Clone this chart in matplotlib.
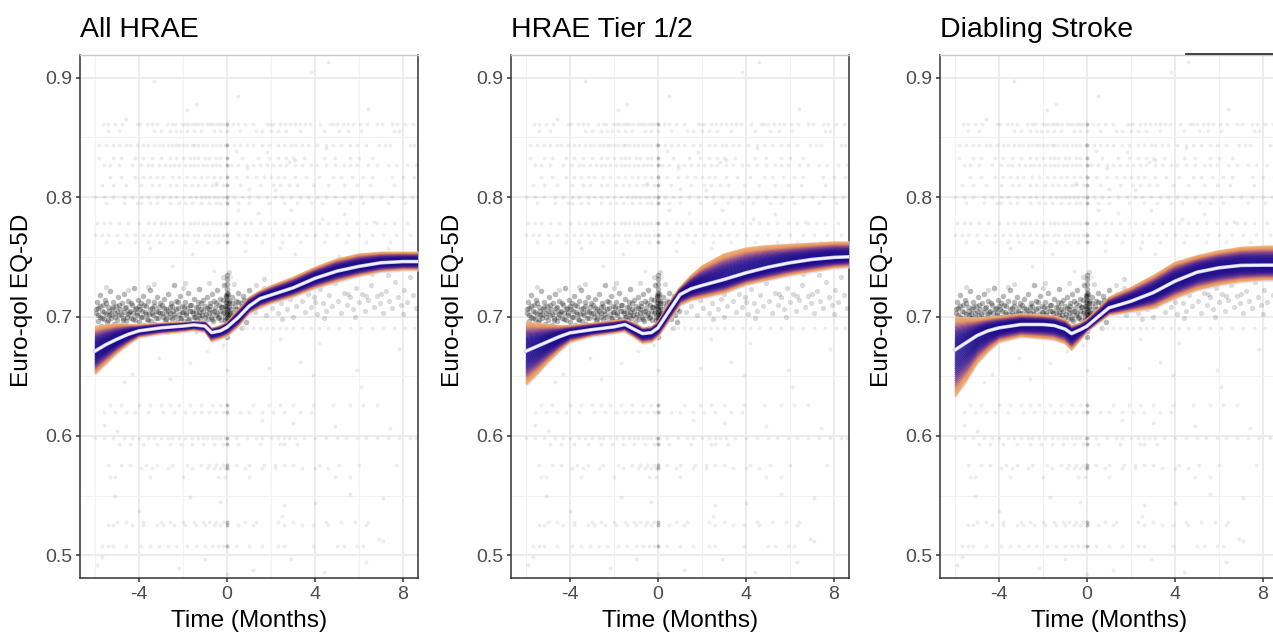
import numpy as np
import matplotlib
matplotlib.use("Agg")
import matplotlib.pyplot as plt
from matplotlib.colors import LinearSegmentedColormap
from matplotlib.lines import Line2D
from matplotlib.ticker import MultipleLocator

plt.rcParams['font.family'] = ['Liberation Sans', 'DejaVu Sans']

# ---- panel titles and axes text
titles = ["All HRAE", "HRAE Tier 1/2", "Diabling Stroke"]
x_label = "Time (Months)"
y_label = "Euro-qol EQ-5D"
x_ticks = [-4, 0, 4, 8]
y_ticks = [0.5, 0.6, 0.7, 0.8, 0.9]

# ---- fitted curves (knots in months)
knots = [-6, -5.5, -5, -4.5, -4, -3, -2, -1.5, -1, -0.7, -0.3, 0, 0.5, 1, 1.5, 2, 3, 4, 5, 6, 7, 8, 8.7]

mean_all = [0.671, 0.6765, 0.681, 0.685, 0.688, 0.6905, 0.692, 0.693, 0.692, 0.6865, 0.688, 0.691,
            0.699, 0.7086, 0.715, 0.718, 0.724, 0.732, 0.738, 0.742, 0.745, 0.746, 0.746]
low_all = [0.652, 0.661, 0.6696, 0.677, 0.683, 0.686, 0.6877, 0.689, 0.6875, 0.6795, 0.682, 0.684,
           0.692, 0.703, 0.708, 0.7115, 0.717, 0.724, 0.7296, 0.7344, 0.738, 0.7394, 0.7394]
high_all = [0.6913, 0.6925, 0.6933, 0.693, 0.6925, 0.694, 0.6947, 0.6955, 0.6955, 0.6897, 0.692,
            0.6947, 0.705, 0.7157, 0.721, 0.7254, 0.7324, 0.7408, 0.7478, 0.752, 0.7534, 0.7534, 0.7534]

mean_tier = [0.671, 0.675, 0.679, 0.683, 0.6863, 0.689, 0.6913, 0.6933, 0.6885, 0.6857, 0.6865,
             0.6905, 0.7045, 0.7184, 0.7232, 0.726, 0.731, 0.7366, 0.7413, 0.745, 0.7478, 0.7495, 0.750]
low_tier = [0.643, 0.652, 0.662, 0.671, 0.679, 0.684, 0.6866, 0.688, 0.682, 0.678, 0.679, 0.6835,
            0.697, 0.710, 0.714, 0.716, 0.720, 0.727, 0.731, 0.735, 0.738, 0.741, 0.742]
high_tier = [0.695, 0.694, 0.693, 0.692, 0.692, 0.694, 0.696, 0.697, 0.6935, 0.690, 0.691, 0.695,
             0.711, 0.724, 0.734, 0.742, 0.752, 0.757, 0.759, 0.760, 0.761, 0.762, 0.762]

mean_stroke = [0.672, 0.678, 0.684, 0.688, 0.6905, 0.6933, 0.6933, 0.6925, 0.6895, 0.6857, 0.689,
               0.6919, 0.6997, 0.7073, 0.710, 0.7128, 0.7199, 0.7296, 0.7371, 0.7408, 0.7428, 0.743, 0.743]
low_stroke = [0.633, 0.646, 0.661, 0.671, 0.679, 0.6835, 0.682, 0.681, 0.678, 0.6723, 0.681, 0.6877,
              0.695, 0.7017, 0.703, 0.7045, 0.7073, 0.7157, 0.7226, 0.7268, 0.7296, 0.731, 0.731]
high_stroke = [0.699, 0.6985, 0.698, 0.699, 0.6997, 0.7017, 0.7008, 0.700, 0.697, 0.6919, 0.694,
               0.6975, 0.706, 0.7157, 0.720, 0.724, 0.7338, 0.745, 0.7505, 0.7547, 0.7575, 0.7584, 0.7586]

# ---- observed EQ-5D values: discrete score levels and the months they were seen at
row_levels = [0.861, 0.855, 0.844, 0.833, 0.827, 0.817, 0.810, 0.800, 0.795, 0.778, 0.768, 0.762,
              0.690, 0.626, 0.620, 0.598, 0.593, 0.576, 0.573, 0.566, 0.528, 0.525, 0.508]
row_months = [
    [-5.62, -5.39, -5.09, -4.79, -4.11, -3.95, -3.65, -3.42, -3.2, -2.74, -2.52, -2.37, -2.06, -1.91,
     -1.76, -1.61, -1.45, -1.3, -1.15, -0.92, -0.77, -0.62, -0.47, -0.32, -0.17, -0.02, 0.29, 0.52,
     0.82, 1.2, 1.8, 1.95, 2.11, 2.41, 2.64, 2.86, 3.09, 3.32, 3.55, 3.77, 4.23, 4.68, 4.83, 4.98,
     5.29, 5.52, 5.74, 6.05, 6.35, 6.8, 7.03, 7.48, 7.71, 8.09, 8.47],
    [-5.4, -4.9, -3.3, -3.0, -2.6, -2.3, -2.1, -1.8, -1.5, -1.2, -0.6, -0.3, 0.0, 0.6, 1.3, 1.6, 2.0,
     2.3, 2.7, 3.3, 4.4, 5.1, 5.5, 6.1, 7.6, 7.8],
    [-5.8, -5.5, -5.2, -4.9, -4.6, -4.4, -4.1, -3.8, -3.6, -3.3, -3.1, -2.9, -2.7, -2.5, -2.3, -2.2,
     -2.0, -1.8, -1.6, -1.5, -1.3, -1.1, -0.9, -0.7, -0.5, -0.3, -0.1, 0.0, 0.3, 0.6, 0.9, 1.2, 1.6,
     1.9, 2.3, 2.6, 2.9, 3.1, 3.4, 3.7, 4.1, 4.5, 4.8, 5.2, 5.6, 5.9, 6.3, 6.9, 7.2, 7.4, 8.3, 8.5],
    [-5.8, -5.2, -4.8, -4.2, -3.8, -3.4, -3.0, -2.6, -2.3, -2.0, -1.7, -1.5, -1.3, -1.0, -0.8, -0.5,
     -0.3, 0.0, 0.7, 1.4, 1.9, 2.3, 2.7, 3.0, 3.5, 4.4, 4.9, 5.6, 6.0, 6.6],
    [-5.6, -5.3, -4.9, -4.3, -3.9, -3.6, -3.4, -3.1, -2.8, -2.6, -2.4, -2.2, -1.9, -1.7, -1.5, -1.3,
     -1.1, -0.9, -0.7, -0.5, -0.3, 0.0, 0.2, 0.5, 0.9, 1.2, 1.5, 1.8, 2.1, 2.4, 2.7, 3.1, 3.4, 3.8,
     4.1, 4.5, 4.9, 5.3, 5.6, 5.9, 6.4, 6.8, 7.3, 7.7, 8.2, 8.6],
    [-5.3, -4.8, -4.2, -3.8, -3.5, -3.2, -2.9, -2.5, -2.2, -1.8, -1.5, -1.2, -0.9, -0.6, -0.3, 0.0,
     0.4, 0.9, 1.3, 1.7, 2.0, 2.3, 2.6, 3.1, 3.6, 4.2, 4.8, 5.2, 5.7, 6.2, 6.6, 7.5, 8.0, 8.5],
    [-5.7, -5.2, -4.6, -3.9, -3.4, -3.1, -2.6, -2.3, -1.9, -1.6, -1.3, -1.0, -0.7, -0.5, -0.2, 0.0,
     0.6, 1.5, 2.1, 2.4, 2.8, 3.2, 3.9, 4.6, 5.3, 5.9, 6.5, 7.6],
    [-6.0, -5.6, -5.2, -4.7, -4.3, -3.9, -3.6, -3.2, -2.9, -2.6, -2.3, -2.0, -1.7, -1.4, -1.2, -1.0,
     -0.8, -0.6, -0.4, -0.2, 0.0, 0.3, 0.7, 1.0, 1.4, 1.8, 2.2, 2.5, 2.9, 3.3, 3.7, 4.1, 4.5, 4.9,
     5.3, 5.7, 6.1, 6.6, 7.0, 7.5, 8.0, 8.4],
    [-5.5, -4.7, -4.1, -3.9, -3.5, -3.2, -2.6, -2.2, -1.9, -1.6, -1.2, -0.8, -0.5, -0.3, 0.0, 0.5,
     1.0, 1.9, 2.6, 3.2, 3.8, 4.3, 5.1, 5.6, 6.2, 7.3, 8.1],
    [-5.9, -5.6, -5.3, -4.9, -4.5, -4.0, -3.6, -3.3, -3.0, -2.8, -2.6, -2.3, -2.0, -1.7, -1.5, -1.3,
     -1.1, -0.9, -0.7, -0.5, -0.3, -0.1, 0.0, 0.4, 0.8, 1.1, 1.5, 1.9, 2.2, 2.6, 3.0, 3.4, 3.8, 4.2,
     4.6, 5.0, 5.4, 5.9, 6.3, 6.8, 7.2, 7.6, 8.2],
    [-6.0, -5.7, -5.4, -5.0, -4.6, -4.2, -3.8, -3.5, -3.2, -2.9, -2.6, -2.3, -2.0, -1.8, -1.5, -1.3,
     -1.0, -0.8, -0.6, -0.4, -0.2, 0.0, 0.5, 0.9, 1.3, 1.7, 2.1, 2.5, 2.8, 3.2, 3.6, 4.0, 4.5, 5.0,
     5.5, 6.0, 6.6, 7.1, 7.7, 8.3],
    [-5.5, -4.9, -4.2, -3.6, -3.1, -2.5, -1.9, -1.4, -0.9, -0.4, 0.0, 0.8, 1.6, 2.5, 3.3, 4.4, 5.4,
     6.3, 7.4],
    [0.6, 0.9, 1.2, 1.5, 1.8, 2.1, 2.4, 2.7, 3.0, 3.4, 3.8, 4.2, 4.6, 5.1, 5.6, 6.1, 6.6, 7.1, 7.6,
     8.1, 8.5],
    [-5.3, -4.8, -4.0, -3.5, -3.0, -2.6, -2.2, -1.7, -1.2, -0.7, -0.3, 0.0, 1.2, 1.9, 2.4, 3.0, 3.9,
     4.8, 5.6, 6.2, 6.8],
    [-5.6, -5.1, -4.6, -4.2, -3.6, -2.9, -2.4, -1.9, -1.5, -1.2, -0.8, -0.5, -0.2, 0.0, 0.6, 1.0,
     1.6, 2.1, 2.6, 3.3, 3.8],
    [-6.0, -5.6, -5.2, -4.7, -4.3, -4.0, -3.6, -3.3, -3.0, -2.7, -2.5, -2.2, -1.9, -1.6, -1.3, -1.1,
     -0.9, -0.7, -0.5, -0.3, -0.1, 0.0, 0.4, 0.9, 1.3, 1.6, 2.0, 2.3, 2.6, 2.8, 3.1, 3.5, 4.0, 4.5,
     5.0, 5.4, 5.9, 6.3, 6.8, 7.3, 7.8, 8.3, 8.6],
    [-4.9, -4.4, -3.8, -3.2, -2.6, -2.1, -1.6, -1.1, -0.6, -0.2, 0.0, 0.5, 1.5, 2.4, 2.6, 3.2],
    [-5.4, -4.8, -4.4, -3.7, -3.2, -2.5, -1.8, -1.2, -0.8, -0.5, -0.2, 0.0, 0.4, 1.0, 1.7, 2.2, 2.6,
     3.0, 4.2, 5.1, 6.0, 7.7],
    [-3.9, -3.4, -2.7, -1.6, -0.9, -0.6, -0.3, -0.1, 0.0, 0.8, 1.6, 2.2, 3.4, 4.0, 4.6],
    [-5.3, -5.1, -3.5, -2.0, -0.4, -0.1, 1.0, 4.9, 5.6],
    [-5.0, -4.6, -3.8, -3.0, -2.6, -2.0, -1.5, -1.1, -0.8, -0.5, -0.2, 0.0, 0.8, 1.3, 2.3, 3.0, 4.5,
     5.2, 5.8, 6.4],
    [-5.4, -5.2, -4.3, -3.8, -3.2, -2.9, -2.4, -1.9, -1.4, -1.0, -0.6, -0.3, 0.0, 0.5, 1.2, 2.6, 3.4,
     3.9, 4.6, 6.3],
    [-5.7, -5.4, -5.2, -4.6, -3.9, -3.5, -3.1, -2.7, -2.3, -1.8, -1.4, -1.0, -0.7, -0.4, -0.2, 0.0,
     0.4, 1.0, 1.6, 2.3, 2.6, 3.9, 5.0, 5.3, 5.9, 6.2],
]
# many patients scored at the event month itself
baseline_levels = [0.861, 0.844, 0.833, 0.827, 0.817, 0.810, 0.800, 0.795, 0.778, 0.768, 0.762,
                   0.626, 0.620, 0.598, 0.593, 0.576, 0.573, 0.528, 0.525, 0.508]

# scattered off-level observations
stray_pts = [(-3.3, 0.897), (-4.6, 0.865), (-1.8, 0.873), (-1.4, 0.878), (0.5, 0.885), (4.6, 0.913),
             (3.8, 0.905), (6.4, 0.874), (0.4, 0.839), (1.8, 0.838), (2.8, 0.829), (0.9, 0.824),
             (3.1, 0.831), (4.5, 0.841), (-0.5, 0.812), (1.0, 0.807), (2.2, 0.806), (0.5, 0.789),
             (1.4, 0.787), (2.9, 0.789), (4.3, 0.782), (5.3, 0.786), (6.7, 0.779), (-3.5, 0.757),
             (-1.6, 0.752), (0.8, 0.755), (2.4, 0.757), (3.1, 0.752), (5.1, 0.751), (7.3, 0.757),
             (-2.5, 0.742), (-0.6, 0.738), (0.2, 0.733), (8.2, 0.741), (-4.3, 0.652), (-3.1, 0.665),
             (-1.7, 0.661), (-0.9, 0.671), (-0.2, 0.676), (-4.7, 0.645), (-2.6, 0.648), (0.0, 0.655),
             (1.9, 0.657), (3.3, 0.662), (3.9, 0.651), (5.9, 0.655), (6.1, 0.641), (7.8, 0.673),
             (2.4, 0.681), (4.2, 0.678), (-5.6, 0.609), (-5.0, 0.604), (4.9, 0.608), (7.4, 0.607),
             (1.6, 0.613), (3.0, 0.611), (-5.1, 0.550), (-0.3, 0.545), (2.6, 0.542), (4.0, 0.544),
             (5.6, 0.551), (7.1, 0.548), (-1.7, 0.549), (-4.0, 0.537), (2.5, 0.533), (6.9, 0.514),
             (7.1, 0.512), (-5.9, 0.492), (-5.7, 0.499), (-1.0, 0.497), (-2.2, 0.489), (0.0, 0.484),
             (2.9, 0.497), (4.4, 0.486), (6.3, 0.494), (1.2, 0.488)]

# the dense cloud of observations around 0.70
cloud_pts = [
    (-5.97, 0.703), (-5.93, 0.712), (-5.88, 0.696), (-5.84, 0.707), (-5.79, 0.700), (-5.75, 0.718),
    (-5.71, 0.692), (-5.66, 0.705), (-5.62, 0.710), (-5.58, 0.698), (-5.53, 0.714), (-5.49, 0.702),
    (-5.45, 0.695), (-5.40, 0.708), (-5.36, 0.701), (-5.31, 0.721), (-5.27, 0.699), (-5.23, 0.706),
    (-5.18, 0.712), (-5.14, 0.694), (-5.10, 0.703), (-5.05, 0.709), (-5.01, 0.697),
    (-4.97, 0.716), (-4.92, 0.701), (-4.88, 0.706), (-4.83, 0.693), (-4.79, 0.711), (-4.74, 0.699),
    (-4.70, 0.704), (-4.66, 0.719), (-4.61, 0.696), (-4.57, 0.708), (-4.52, 0.702), (-4.48, 0.713),
    (-4.44, 0.690), (-4.39, 0.705), (-4.35, 0.699), (-4.30, 0.710), (-4.26, 0.703), (-4.22, 0.724),
    (-4.17, 0.697), (-4.13, 0.707), (-4.08, 0.701), (-4.04, 0.714),
    (-3.98, 0.695), (-3.94, 0.706), (-3.89, 0.711), (-3.85, 0.700), (-3.80, 0.717), (-3.76, 0.693),
    (-3.71, 0.704), (-3.67, 0.709), (-3.63, 0.698), (-3.58, 0.713), (-3.54, 0.702), (-3.49, 0.722),
    (-3.45, 0.696), (-3.41, 0.707), (-3.36, 0.701), (-3.32, 0.712), (-3.27, 0.694), (-3.23, 0.705),
    (-3.19, 0.716), (-3.14, 0.699), (-3.10, 0.708), (-3.05, 0.703), (-3.01, 0.691),
    (-2.97, 0.710), (-2.92, 0.700), (-2.88, 0.715), (-2.83, 0.697), (-2.79, 0.706), (-2.75, 0.702),
    (-2.70, 0.719), (-2.66, 0.694), (-2.61, 0.708), (-2.57, 0.703), (-2.53, 0.711), (-2.48, 0.698),
    (-2.44, 0.705), (-2.39, 0.726), (-2.35, 0.700), (-2.31, 0.713), (-2.26, 0.695), (-2.22, 0.707),
    (-2.17, 0.702), (-2.13, 0.717), (-2.09, 0.699), (-2.04, 0.709), (-2.00, 0.704),
    (-1.96, 0.696), (-1.91, 0.712), (-1.87, 0.701), (-1.82, 0.707), (-1.78, 0.720), (-1.73, 0.698),
    (-1.69, 0.705), (-1.65, 0.710), (-1.60, 0.693), (-1.56, 0.703), (-1.51, 0.715), (-1.47, 0.700),
    (-1.43, 0.708), (-1.38, 0.697), (-1.34, 0.712), (-1.29, 0.704), (-1.25, 0.723), (-1.21, 0.699),
    (-1.16, 0.706), (-1.12, 0.701), (-1.07, 0.714), (-1.03, 0.695),
    (-0.98, 0.709), (-0.94, 0.702), (-0.90, 0.716), (-0.86, 0.698), (-0.82, 0.706), (-0.78, 0.711),
    (-0.74, 0.700), (-0.70, 0.719), (-0.66, 0.704), (-0.62, 0.696), (-0.58, 0.713), (-0.54, 0.707),
    (-0.50, 0.701), (-0.46, 0.722), (-0.42, 0.699), (-0.38, 0.710), (-0.34, 0.705), (-0.30, 0.715),
    (-0.26, 0.697), (-0.22, 0.708), (-0.18, 0.703), (-0.14, 0.726), (-0.10, 0.700), (-0.06, 0.712),
    (-0.03, 0.694),
    (0.00, 0.683), (0.00, 0.688), (0.01, 0.692), (-0.01, 0.696), (0.00, 0.699), (0.02, 0.702),
    (-0.02, 0.704), (0.00, 0.706), (0.01, 0.709), (-0.01, 0.711), (0.00, 0.714), (0.02, 0.717),
    (0.00, 0.720), (-0.02, 0.723), (0.01, 0.727), (0.00, 0.731), (0.00, 0.735), (0.05, 0.700),
    (-0.05, 0.707), (0.08, 0.713), (-0.08, 0.697), (0.04, 0.719), (-0.04, 0.690), (0.06, 0.705),
    (-0.06, 0.716), (0.10, 0.702), (-0.10, 0.709),
    (0.04, 0.701), (0.09, 0.711), (0.13, 0.697), (0.18, 0.706), (0.22, 0.716), (0.27, 0.703),
    (0.31, 0.695), (0.36, 0.709), (0.40, 0.713), (0.45, 0.700), (0.49, 0.720), (0.54, 0.706),
    (0.58, 0.698), (0.63, 0.711), (0.67, 0.704), (0.72, 0.717), (0.76, 0.701), (0.81, 0.709),
    (0.85, 0.695), (0.90, 0.713), (0.94, 0.705), (0.99, 0.722),
]
# thickest part of the pre-event cloud
cloud_core_pts = [
    (-5.95, 0.706), (-5.86, 0.701), (-5.77, 0.709), (-5.68, 0.699), (-5.60, 0.704), (-5.51, 0.711),
    (-5.42, 0.697), (-5.34, 0.705), (-5.25, 0.702), (-5.16, 0.708), (-5.07, 0.700),
    (-4.99, 0.705), (-4.90, 0.710), (-4.81, 0.702), (-4.72, 0.697), (-4.64, 0.707), (-4.55, 0.700),
    (-4.46, 0.704), (-4.37, 0.711), (-4.28, 0.698), (-4.19, 0.706), (-4.10, 0.703), (-4.02, 0.709),
    (-3.93, 0.700), (-3.84, 0.705), (-3.75, 0.710), (-3.66, 0.702), (-3.57, 0.697), (-3.48, 0.706),
    (-3.39, 0.703), (-3.30, 0.709), (-3.21, 0.699), (-3.12, 0.704), (-3.03, 0.711),
    (-2.95, 0.703), (-2.86, 0.707), (-2.77, 0.698), (-2.68, 0.705), (-2.59, 0.700), (-2.50, 0.709),
    (-2.41, 0.702), (-2.32, 0.706), (-2.23, 0.712), (-2.14, 0.699), (-2.05, 0.704),
    (-1.97, 0.708), (-1.88, 0.703), (-1.79, 0.697), (-1.70, 0.710), (-1.61, 0.705), (-1.52, 0.700),
    (-1.43, 0.704), (-1.34, 0.708), (-1.25, 0.701), (-1.16, 0.711), (-1.07, 0.705),
    (-0.99, 0.700), (-0.92, 0.707), (-0.84, 0.703), (-0.76, 0.709), (-0.68, 0.698), (-0.60, 0.705),
    (-0.52, 0.711), (-0.44, 0.703), (-0.36, 0.700), (-0.28, 0.708), (-0.20, 0.714), (-0.12, 0.704),
    (-0.05, 0.718), (0.07, 0.708), (0.15, 0.703), (0.24, 0.711), (0.33, 0.700), (0.42, 0.706),
    (0.51, 0.712), (0.60, 0.703), (0.69, 0.709), (0.78, 0.714), (0.87, 0.706), (0.96, 0.711),
]
# thinner fringe of the cloud
cloud_fringe_pts = [
    (-5.8, 0.688), (-5.1, 0.686), (-4.5, 0.722), (-3.9, 0.689), (-3.3, 0.727), (-2.7, 0.687),
    (-2.0, 0.724), (-1.4, 0.688), (-0.8, 0.728), (-0.4, 0.690), (0.3, 0.727), (0.7, 0.690),
    (-5.5, 0.725), (-4.9, 0.688), (-2.4, 0.690), (-1.1, 0.689), (-0.2, 0.733), (0.1, 0.737),
    (-3.6, 0.725), (-1.9, 0.728),
    (1.10, 0.712), (1.25, 0.704), (1.38, 0.719), (1.52, 0.709), (1.66, 0.724), (1.79, 0.701),
    (1.93, 0.714), (2.06, 0.707), (2.20, 0.718), (2.33, 0.703), (2.47, 0.711), (2.61, 0.722),
    (2.74, 0.706), (2.88, 0.715), (3.02, 0.700), (3.15, 0.709), (3.29, 0.727), (3.42, 0.713),
    (3.56, 0.704), (3.70, 0.719), (3.83, 0.708), (3.97, 0.716), (4.10, 0.702), (4.24, 0.723),
    (4.38, 0.711), (4.51, 0.705), (4.65, 0.718), (4.78, 0.709), (4.92, 0.728), (5.06, 0.713),
    (5.19, 0.703), (5.33, 0.720), (5.46, 0.710), (5.60, 0.716), (5.74, 0.706), (5.87, 0.724),
    (6.01, 0.712), (6.14, 0.719), (6.28, 0.705), (6.42, 0.714), (6.55, 0.726), (6.69, 0.708),
    (6.82, 0.717), (6.96, 0.711), (7.10, 0.703), (7.23, 0.721), (7.37, 0.713), (7.50, 0.707),
    (7.64, 0.729), (7.78, 0.716), (7.91, 0.710), (8.05, 0.722), (8.18, 0.712), (8.32, 0.733),
    (8.46, 0.718), (8.60, 0.707),
    (1.70, 0.731), (2.50, 0.698), (3.60, 0.732), (4.40, 0.699), (5.00, 0.734), (5.80, 0.700),
    (6.60, 0.736), (7.30, 0.735), (8.00, 0.702), (3.00, 0.719), (4.00, 0.712), (5.50, 0.719),
    (6.30, 0.717), (7.00, 0.719), (2.20, 0.725), (1.30, 0.726),
]

panels = [
    (titles[0], mean_all, low_all, high_all),
    (titles[1], mean_tier, low_tier, high_tier),
    (titles[2], mean_stroke, low_stroke, high_stroke),
]

# ---- layout (pixels of a 1273 x 634 canvas)
W, H = 1273, 634
panel_left = [80, 511, 940]
panel_w, panel_bottom, panel_h = 338, 56, 523

band_cmap = LinearSegmentedColormap.from_list(
    'band', ['#1A0A8A', '#220E8E', '#4A2390', '#9A5080', '#E8955E', '#F6AA5E'])

fig = plt.figure(figsize=(W / 100, H / 100), dpi=100)

row_x = np.concatenate([np.array(m) for m in row_months])
row_y = np.concatenate([np.full(len(m), lv) for m, lv in zip(row_months, row_levels)])
stray = np.array(stray_pts)
cloud = np.array(cloud_pts)
core = np.array(cloud_core_pts)
fringe = np.array(cloud_fringe_pts)

for i, (title, mean, low, high) in enumerate(panels):
    ax = fig.add_axes([panel_left[i] / W, panel_bottom / H, panel_w / W, panel_h / H])
    ax.set_xlim(-6.68, 8.68)
    ax.set_ylim(0.481, 0.919)

    # grid like theme_bw
    ax.xaxis.set_major_locator(MultipleLocator(4))
    ax.xaxis.set_minor_locator(MultipleLocator(2))
    ax.yaxis.set_major_locator(MultipleLocator(0.1))
    ax.yaxis.set_minor_locator(MultipleLocator(0.05))
    ax.grid(which='major', color='#EBEBEB', lw=1.3, zorder=0)
    ax.grid(which='minor', color='#F2F2F2', lw=0.8, zorder=0)
    ax.set_axisbelow(True)
    ax.set_xticks(x_ticks)
    ax.set_xticklabels([str(t) for t in x_ticks])
    ax.set_yticks(y_ticks)
    ax.set_yticklabels([f"{t:.1f}" for t in y_ticks])
    ax.tick_params(which='major', length=3, width=1.1, color='#333333',
                   labelsize=14, labelcolor='#4D4D4D', pad=2.5)
    ax.tick_params(which='minor', length=0)

    for side in ['left', 'bottom', 'right']:
        ax.spines[side].set_color('#333333')
        ax.spines[side].set_linewidth(1.1)
    ax.spines['top'].set_color('#C8C8C8')
    ax.spines['top'].set_linewidth(1.0)

    # observations
    ax.scatter(row_x, row_y, s=8, color='black', alpha=0.07, lw=0, zorder=2)
    ax.scatter(np.zeros(len(baseline_levels)), baseline_levels, s=8, color='black',
               alpha=0.18, lw=0, zorder=2)
    ax.scatter(stray[:, 0], stray[:, 1], s=8, color='black', alpha=0.08, lw=0, zorder=2)
    ax.scatter(fringe[:, 0], fringe[:, 1], s=14, color='black', alpha=0.14, lw=0, zorder=2)
    ax.scatter(cloud[:, 0], cloud[:, 1], s=16, color='black', alpha=0.28, lw=0, zorder=2)
    ax.scatter(core[:, 0], core[:, 1], s=16, color='black', alpha=0.28, lw=0, zorder=2)

    # bootstrap band: lavender halo, then curves from the edges in to the fitted mean
    mean = np.array(mean)
    low = np.array(low)
    high = np.array(high)
    ax.fill_between(knots, low - 0.0015, high + 0.0015, color='#D6D6F5', alpha=0.7,
                    lw=0, zorder=3)
    ws = np.linspace(-1, 1, 49)
    ws = ws[np.argsort(-np.abs(ws))]
    for w in ws:
        if w >= 0:
            yy = mean + w * (high - mean)
        else:
            yy = mean + w * (mean - low)
        col = band_cmap(abs(w) ** 1.5)
        ax.plot(knots, yy, color=col, lw=1.4, alpha=0.75, zorder=4,
                solid_capstyle='butt', solid_joinstyle='round')
    ax.plot(knots, mean, color='#C4C4EC', lw=2.6, zorder=5, solid_joinstyle='round')
    ax.plot(knots, mean, color='#F4F4FF', lw=1.5, zorder=6, solid_joinstyle='round')

    # texts
    fig.text(panel_left[i] / W, 1 - 37 / H, title, fontsize=20.5, ha='left', va='baseline')
    fig.text((panel_left[i] + panel_w / 2) / W, 1 - 621 / H, x_label, fontsize=17.6,
             ha='center', va='center')
    fig.text((panel_left[i] - 58) / W, 1 - 300 / H, y_label, fontsize=17.6,
             ha='center', va='center', rotation=90)

# stray dark stroke along the top edge of the last panel
fig.add_artist(Line2D([1186 / W, 1.0], [1 - 53.5 / H, 1 - 53.5 / H], color='#333333', lw=1.3))

fig.savefig('out.png', dpi=100)
